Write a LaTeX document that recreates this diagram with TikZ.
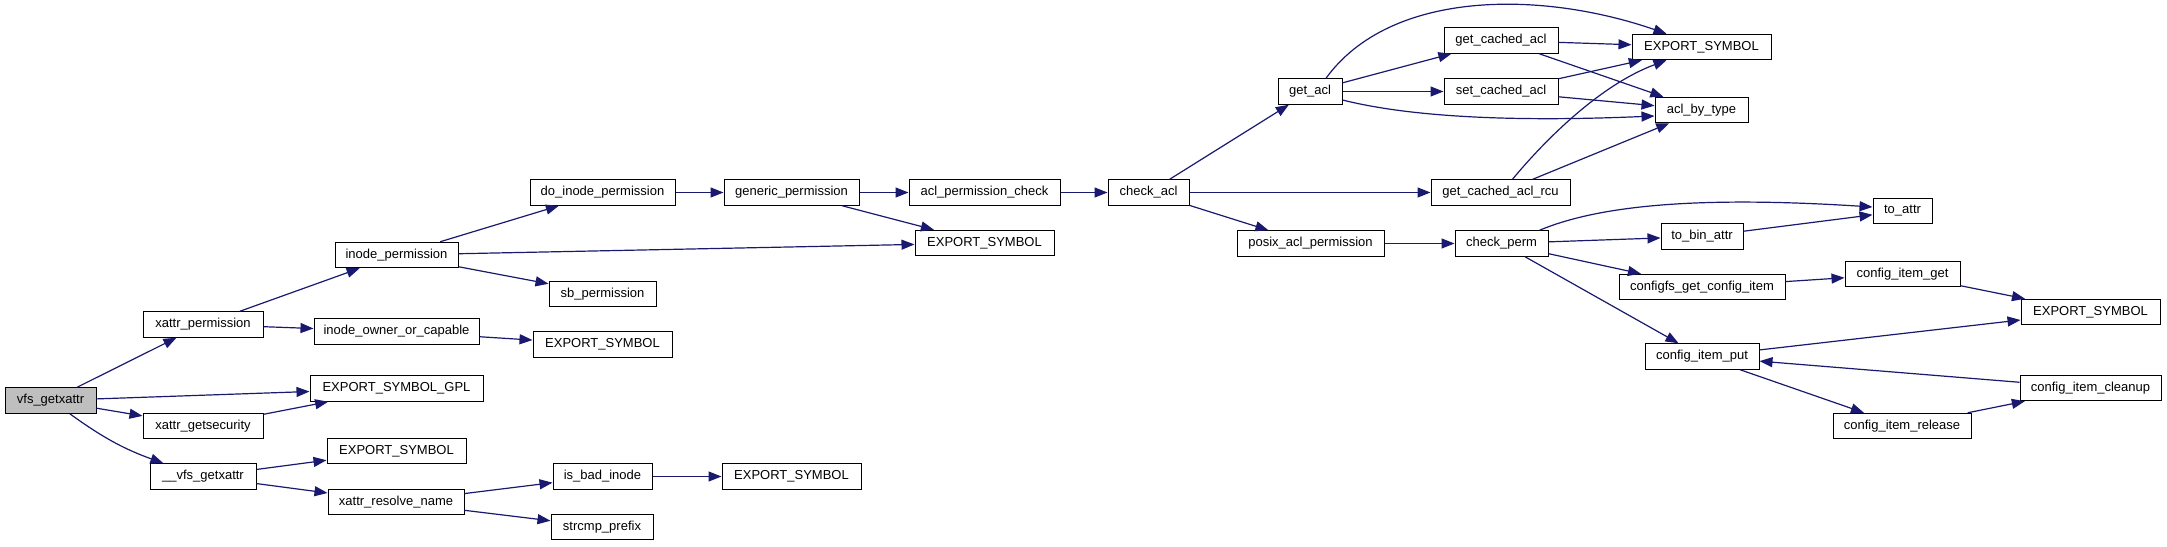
\documentclass[tikz,border=0pt]{standalone}
\usepackage{fontspec}
\setmainfont{Liberation Sans}
\usetikzlibrary{arrows.meta}
\definecolor{edgeblue}{HTML}{191970}
\definecolor{rootgray}{HTML}{BFBFBF}
\begin{document}
\begin{tikzpicture}[x=1pt,y=-1pt,
  fn/.style={draw=black, line width=1pt, fill=white, minimum height=25.5pt, inner sep=0pt, font=\fontsize{13}{15}\selectfont, anchor=center},
  e/.style={draw=edgeblue, line width=1.2pt, -{Triangle[length=13pt,width=10pt]}}]
\useasboundingbox (0,0) rectangle (2167,546);
\fill[white] (0,0) rectangle (2167,546);
% nodes
\node[fn, minimum width=91pt, fill=rootgray] (vfs) at (50.5,400.5) {vfs\_getxattr};
\node[fn, minimum width=120pt] (xperm) at (203,324.5) {xattr\_permission};
\node[fn, minimum width=120pt] (xsec) at (203,426) {xattr\_getsecurity};
\node[fn, minimum width=106pt] (vvfs) at (203,476.5) {\_\_vfs\_getxattr};
\node[fn, minimum width=123pt] (iperm) at (396.5,255) {inode\_permission};
\node[fn, minimum width=165pt] (iowner) at (396.5,331.5) {inode\_owner\_or\_capable};
\node[fn, minimum width=173pt] (gpl) at (396.5,388.5) {EXPORT\_SYMBOL\_GPL};
\node[fn, minimum width=139pt] (esb) at (396.5,451) {EXPORT\_SYMBOL};
\node[fn, minimum width=136pt] (xrn) at (396,502) {xattr\_resolve\_name};
\node[fn, minimum width=145pt] (doip) at (602.5,192.5) {do\_inode\_permission};
\node[fn, minimum width=107pt] (sbp) at (602.5,294) {sb\_permission};
\node[fn, minimum width=139pt] (esa) at (602.5,344.5) {EXPORT\_SYMBOL};
\node[fn, minimum width=99pt] (ibi) at (602.5,476.5) {is\_bad\_inode};
\node[fn, minimum width=102pt] (scp) at (602,527) {strcmp\_prefix};
\node[fn, minimum width=139pt] (esc) at (791.5,476.5) {EXPORT\_SYMBOL};
\node[fn, minimum width=135pt] (genp) at (791.5,192.5) {generic\_permission};
\node[fn, minimum width=151pt] (aclpc) at (984.5,192.5) {acl\_permission\_check};
\node[fn, minimum width=139pt] (esm) at (984.5,243) {EXPORT\_SYMBOL};
\node[fn, minimum width=81pt] (chkacl) at (1148.5,192.5) {check\_acl};
\node[fn, minimum width=64pt] (getacl) at (1310,91.5) {get\_acl};
\node[fn, minimum width=147pt] (pap) at (1310.5,243.5) {posix\_acl\_permission};
\node[fn, minimum width=114pt] (gca) at (1501,40.5) {get\_cached\_acl};
\node[fn, minimum width=114pt] (sca) at (1501,91.5) {set\_cached\_acl};
\node[fn, minimum width=139pt] (gcar) at (1500.5,192.5) {get\_cached\_acl\_rcu};
\node[fn, minimum width=139pt] (est) at (1701.5,47) {EXPORT\_SYMBOL};
\node[fn, minimum width=93pt] (abt) at (1701.5,110) {acl\_by\_type};
\node[fn, minimum width=93pt] (chkp) at (1501.5,243.5) {check\_perm};
\node[fn, minimum width=59pt] (toattr) at (1902.5,211) {to\_attr};
\node[fn, minimum width=82pt] (tobin) at (1702,236.5) {to\_bin\_attr};
\node[fn, minimum width=166pt] (cgci) at (1702,287) {configfs\_get\_config\_item};
\node[fn, minimum width=115pt] (cig) at (1902.5,274) {config\_item\_get};
\node[fn, minimum width=139pt] (esr) at (2090.5,312) {EXPORT\_SYMBOL};
\node[fn, minimum width=114pt] (cip) at (1702,356.5) {config\_item\_put};
\node[fn, minimum width=141pt] (cic) at (2090.5,388) {config\_item\_cleanup};
\node[fn, minimum width=138pt] (cir) at (1902,426) {config\_item\_release};
% edges
\draw[e] (vfs) -- (xperm);
\draw[e] (vfs) -- (gpl);
\draw[e] (vfs) -- (xsec);
\draw[e] (vfs) to[bend right=8] (vvfs);
\draw[e] (xperm) -- (iperm);
\draw[e] (xperm) -- (iowner);
\draw[e] (iperm) -- (doip);
\draw[e] (iperm) -- (esm);
\draw[e] (iperm) -- (sbp);
\draw[e] (iowner) -- (esa);
\draw[e] (xsec) -- (gpl);
\draw[e] (vvfs) -- (esb);
\draw[e] (vvfs) -- (xrn);
\draw[e] (xrn) -- (ibi);
\draw[e] (xrn) -- (scp);
\draw[e] (ibi) -- (esc);
\draw[e] (doip) -- (genp);
\draw[e] (genp) -- (aclpc);
\draw[e] (genp) -- (esm);
\draw[e] (aclpc) -- (chkacl);
\draw[e] (chkacl) -- (getacl);
\draw[e] (chkacl) -- (gcar);
\draw[e] (chkacl) -- (pap);
\draw[e] ([xshift=16pt]getacl.north) .. controls (1390,-10) and (1540,-10) .. ([xshift=-35pt]est.north);
\draw[e] (getacl) -- (gca);
\draw[e] (getacl) -- (sca);
\draw[e] ([yshift=-8.5pt]getacl.east) .. controls (1430,122) and (1560,120) .. ([yshift=-6pt]abt.west);
\draw[e] (gca) -- (est);
\draw[e] (gca) -- (abt);
\draw[e] (sca) -- (est);
\draw[e] (sca) -- (abt);
\draw[e] ([xshift=12pt]gcar.north) .. controls (1545,140) and (1600,85) .. ([xshift=-35pt]est.south);
\draw[e] (gcar) -- (abt);
\draw[e] (pap) -- (chkp);
\draw[e] ([xshift=38pt]chkp.north) .. controls (1600,205) and (1700,196) .. ([yshift=4pt]toattr.west);
\draw[e] (chkp) -- (tobin);
\draw[e] (chkp) -- (cgci);
\draw[e] (chkp) -- (cip);
\draw[e] (tobin) -- (toattr);
\draw[e] (cgci) -- (cig);
\draw[e] (cig) -- (esr);
\draw[e] (cip) -- (esr);
\draw[e] (cip) -- (cir);
\draw[e] (cir) -- (cic);
\draw[e] (cic) -- (cip);
\end{tikzpicture}
\end{document}
